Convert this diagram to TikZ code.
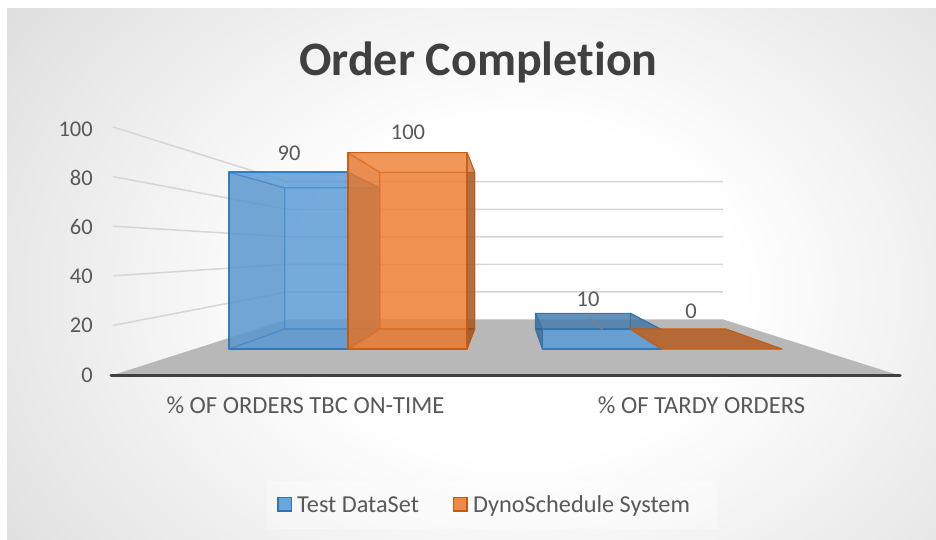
\documentclass[tikz,border=0pt]{standalone}
\usepackage{fontspec}
\setmainfont{Carlito}[Ligatures={NoCommon}]

\definecolor{barblue}{RGB}{91,155,213}
\definecolor{barorange}{RGB}{237,125,49}
\definecolor{blueedge}{RGB}{46,117,182}
\definecolor{orangeedge}{RGB}{197,90,17}
\definecolor{gridgray}{RGB}{214,214,214}
\definecolor{floorgray}{RGB}{184,184,184}
\definecolor{axisdark}{RGB}{64,64,64}
\definecolor{labelgray}{RGB}{89,89,89}
\definecolor{titlegray}{RGB}{64,64,64}
\definecolor{bgedge}{RGB}{186,186,186}
\definecolor{flatorange}{RGB}{180,105,55}

% soft radial glow behind the chart
\pgfdeclareradialshading{chartglow}{\pgfpoint{0bp}{0bp}}%
  {color(0bp)=(white); color(10bp)=(white); color(50bp)=(bgedge)}

% one translucent 3-D column: #1 prefix of its eight corners,
% #2 front/back colour, #3 edge colour, #4 left, #5 right, #6 top, #7 bottom
\newcommand\columnfaces[7]{%
  \filldraw[face, fill=#2, draw=#3] (#1b1) -- (#1b2) -- (#1b3) -- (#1b4) -- cycle;
  \filldraw[face, fill=#7, draw=#3] (#1f4) -- (#1f3) -- (#1b3) -- (#1b4) -- cycle;
  \filldraw[face, fill=#4, draw=#3] (#1f1) -- (#1b1) -- (#1b4) -- (#1f4) -- cycle;
  \filldraw[face, fill=#5, draw=#3] (#1f2) -- (#1b2) -- (#1b3) -- (#1f3) -- cycle;
  \filldraw[face, fill=#6, draw=#3] (#1f1) -- (#1f2) -- (#1b2) -- (#1b1) -- cycle;
  \filldraw[face, fill=#2, draw=#3, line width=1.7pt]
    (#1f1) -- (#1f2) -- (#1f3) -- (#1f4) -- cycle;
}

\begin{document}
\begin{tikzpicture}[x=1pt, y=-1pt,
  face/.style={fill opacity=0.6, draw opacity=0.85, line width=1.1pt, line join=round},
  gridline/.style={draw=gridgray, line width=1.5pt},
  ytick/.style={anchor=base east, text=labelgray, font=\fontsize{22.5}{25}\selectfont, inner sep=0pt},
  datalabel/.style={anchor=base, text=labelgray, font=\fontsize{22.5}{25}\selectfont, inner sep=0pt},
  catlabel/.style={anchor=base, text=labelgray, font=\fontsize{24.6}{27}\selectfont, inner sep=0pt},
  legendtext/.style={anchor=base west, text=labelgray, font=\fontsize{24.3}{27}\selectfont, inner sep=0pt},
  legendkey/.style={line width=1.4pt}]

\useasboundingbox (0,0) rectangle (936,539);
\fill[white] (0,0) rectangle (936,539);

% chart area with radial glow
\begin{scope}
  \clip (7,8) rectangle (936,539);
  \shade[shading=chartglow] (-30,-130) rectangle (1070,710);
\end{scope}

% floor
\coordinate (floorFL) at (113,375);
\coordinate (floorFR) at (898,375);
\coordinate (floorBR) at (723,319.4);
\coordinate (floorBL) at (287.4,319.4);
\fill[floorgray] (floorFL) -- (floorFR) -- (floorBR) -- (floorBL) -- cycle;

% gridlines: side wall then back wall
\foreach \v/\yf/\yb in {20/325.4/291.9, 40/275.8/264.3, 60/226.2/236.8, 80/176.6/209.3, 100/127/181.7}{
  \coordinate (gs\v) at (113,\yf);
  \coordinate (gb\v) at (287.4,\yb);
  \coordinate (ge\v) at (723,\yb);
  \draw[gridline] (gs\v) -- (gb\v) -- (ge\v);
}

% value axis line
\coordinate (axisL) at (111,375);
\coordinate (axisR) at (900,375);
\draw[axisdark, line width=3pt, line cap=round] (axisL) -- (axisR);

% column corners
\coordinate (Af1) at (229,172.2);   \coordinate (Af2) at (348,172.2);
\coordinate (Af3) at (348,349);     \coordinate (Af4) at (229,349);
\coordinate (Ab1) at (284.7,187.9); \coordinate (Ab2) at (379.7,187.9);
\coordinate (Ab3) at (379.7,329);   \coordinate (Ab4) at (284.7,329);

\coordinate (Bf1) at (348,152.6);   \coordinate (Bf2) at (467,152.6);
\coordinate (Bf3) at (467,349);     \coordinate (Bf4) at (348,349);
\coordinate (Bb1) at (379.7,172.3); \coordinate (Bb2) at (474.7,172.3);
\coordinate (Bb3) at (474.7,329);   \coordinate (Bb4) at (379.7,329);

\coordinate (Cf1) at (542.5,329.6); \coordinate (Cf2) at (661.5,329.6);
\coordinate (Cf3) at (661.5,349);   \coordinate (Cf4) at (542.5,349);
\coordinate (Cb1) at (535.5,313.3); \coordinate (Cb2) at (630.3,313.3);
\coordinate (Cb3) at (630.3,329);   \coordinate (Cb4) at (535.5,329);

\coordinate (Df1) at (661.5,349);   \coordinate (Df2) at (782,349);
\coordinate (Db2) at (726,329);     \coordinate (Db1) at (630.3,329);

% category 1
\columnfaces{A}{barblue}{blueedge}{barblue!88!black}{barblue!70!black}{barblue}{barblue!92!black}
\columnfaces{B}{barorange}{orangeedge}{barorange!88!black}{barorange!55!black}{barorange!85!white}{barorange!92!black}

% category 2
\coordinate (seamA) at (588,317);
\coordinate (seamB) at (603,330);
\columnfaces{C}{barblue}{blueedge}{barblue!55!black}{barblue!85!black}{barblue!72!black}{barblue}
\draw[gray, line width=1.2pt] (seamA) -- (seamB);
\filldraw[fill=flatorange, draw=orangeedge, line width=1.1pt, line join=round]
  (Df1) -- (Df2) -- (Db2) -- (Db1) -- cycle;

% value axis labels
\node[ytick] (y100) at (93,136) {100};
\node[ytick] (y80)  at (93,185) {80};
\node[ytick] (y60)  at (93,234) {60};
\node[ytick] (y40)  at (93,283) {40};
\node[ytick] (y20)  at (93,332) {20};
\node[ytick] (y0)   at (93,382) {0};

% data labels
\node[datalabel] (lab90)  at (289,160) {90};
\node[datalabel] (lab100) at (408,139) {100};
\node[datalabel] (lab10)  at (588,306) {10};
\node[datalabel] (lab0)   at (691,318) {0};

% category labels
\node[catlabel] (cat1) at (305.5,413) {\% OF ORDERS TBC ON-TIME};
\node[catlabel] (cat2) at (701.5,413) {\% OF TARDY ORDERS};

% title
\node[anchor=base, text=titlegray, inner sep=0pt,
      font=\fontsize{48}{52}\selectfont\bfseries] (title) at (478.5,75) {Order Completion};

% legend
\fill[white, opacity=0.35] (267,481) rectangle (717,529);
\filldraw[legendkey, fill=barblue!90!white, draw=blueedge] (278,497.5) rectangle (291.5,511);
\node[legendtext] (legA) at (297,512) {Test DataSet};
\filldraw[legendkey, fill=barorange!90!white, draw=orangeedge] (453.5,497.5) rectangle (467,511);
\node[legendtext] (legB) at (473,512) {DynoSchedule System};

\end{tikzpicture}
\end{document}
